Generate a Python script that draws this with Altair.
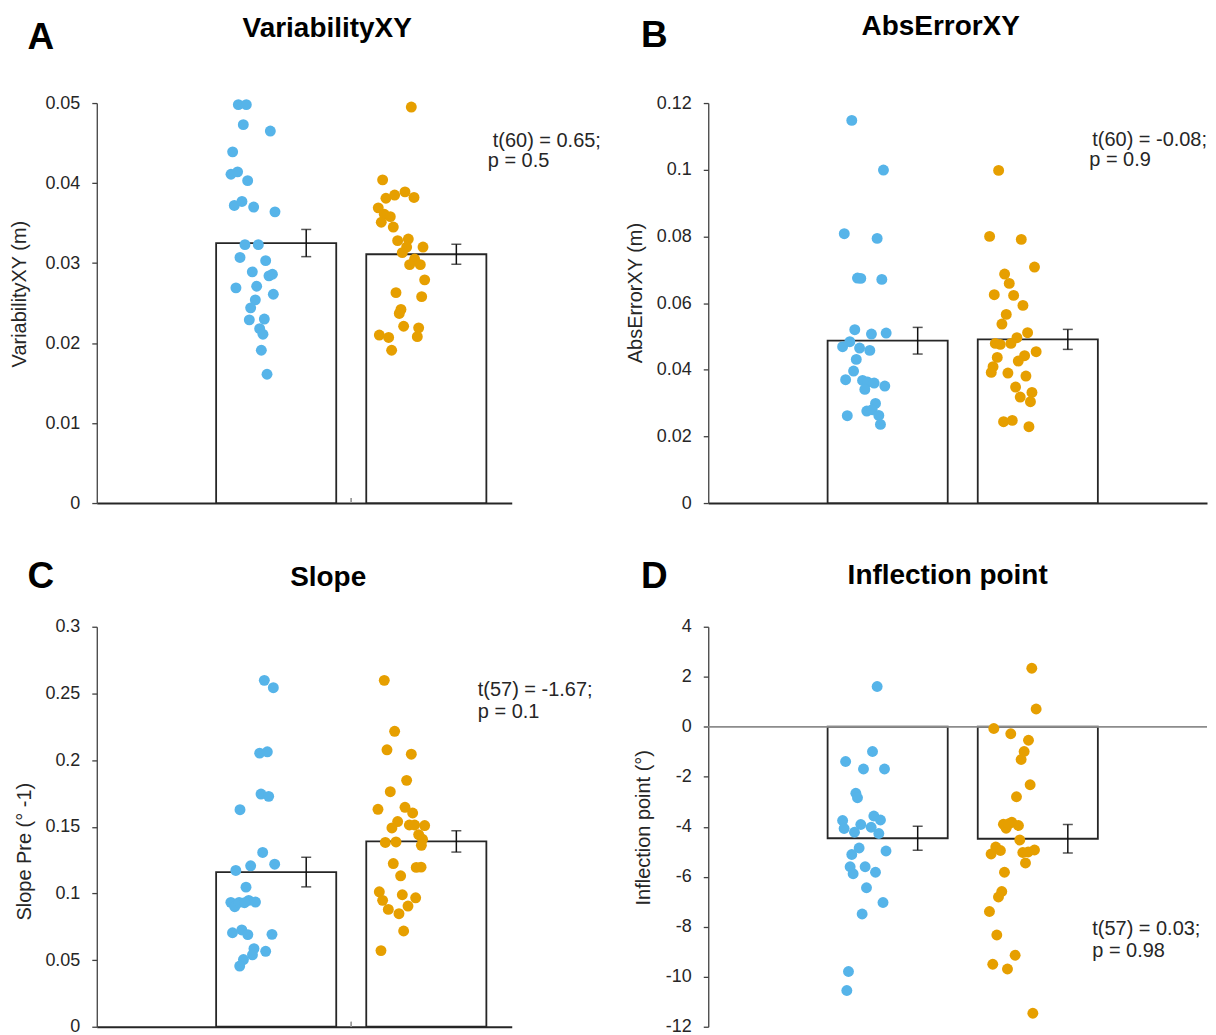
import altair as alt
import pandas as pd

FONT = "Liberation Sans"
BLUE = "#56B4E9"
ORANGE = "#E69F00"

GROUPS = ["Group 1", "Group 2"]
BAR_POS = [1, 2]

# ---------------- Panel A : VariabilityXY ----------------
a_blue = [0.0498, 0.0498, 0.0473, 0.0465, 0.0439, 0.0411, 0.0414, 0.0403, 0.0372, 0.0377,
          0.0370, 0.0364, 0.0323, 0.0323, 0.0307, 0.0303, 0.0289, 0.0284, 0.0286, 0.0269,
          0.0271, 0.0261, 0.0254, 0.0244, 0.0229, 0.0230, 0.0218, 0.0211, 0.0191, 0.0161]
a_blue_jit = [-0.252, -0.199, -0.219, -0.039, -0.290, -0.301, -0.257, -0.190, -0.279, -0.228,
              -0.150, -0.008, -0.208, -0.119, -0.241, -0.070, -0.159, -0.048, -0.025, -0.268,
              -0.130, -0.019, -0.139, -0.170, -0.179, -0.079, -0.110, -0.088, -0.099, -0.061]
a_orange = [0.0495, 0.0404, 0.0381, 0.0385, 0.0389, 0.0382, 0.0369, 0.0361, 0.0358, 0.0351,
            0.0345, 0.0328, 0.0330, 0.0320, 0.0320, 0.0313, 0.0305, 0.0298, 0.0298, 0.0279,
            0.0263, 0.0258, 0.0242, 0.0237, 0.0221, 0.0219, 0.0210, 0.0207, 0.0208, 0.0191]
a_orange_jit = [-0.100, -0.291, -0.269, -0.211, -0.142, -0.082, -0.320, -0.280, -0.240, -0.300,
                -0.220, -0.191, -0.120, -0.131, -0.022, -0.160, -0.078, -0.111, -0.040, -0.011,
                -0.202, -0.031, -0.169, -0.180, -0.151, -0.051, -0.313, -0.251, -0.060, -0.231]
a_means = [0.0325, 0.0311]
a_sems = [0.0017, 0.00125]
a_ticks = [0, 0.01, 0.02, 0.03, 0.04, 0.05]
a_ann = ["t(60) = 0.65;", "p = 0.5"]

# ---------------- Panel B : AbsErrorXY ----------------
b_blue = [0.1148, 0.0999, 0.0808, 0.0794, 0.0675, 0.0674, 0.0671, 0.0520, 0.0507, 0.0510,
          0.0484, 0.0469, 0.0465, 0.0458, 0.0431, 0.0396, 0.0370, 0.0368, 0.0363, 0.0360,
          0.0351, 0.0341, 0.0299, 0.0276, 0.0280, 0.0262, 0.0263, 0.0236]
b_blue_jit = [-0.239, -0.028, -0.289, -0.070, -0.201, -0.179, -0.039, -0.219, -0.108, -0.010,
              -0.252, -0.300, -0.187, -0.119, -0.209, -0.227, -0.280, -0.167, -0.134, -0.090,
              -0.019, -0.152, -0.081, -0.139, -0.103, -0.269, -0.059, -0.048]
b_orange = [0.0998, 0.0800, 0.0791, 0.0708, 0.0687, 0.0659, 0.0625, 0.0623, 0.0593, 0.0566,
            0.0537, 0.0511, 0.0496, 0.0479, 0.0476, 0.0479, 0.0454, 0.0442, 0.0426, 0.0437,
            0.0409, 0.0392, 0.0390, 0.0381, 0.0348, 0.0332, 0.0318, 0.0304, 0.0244, 0.0248,
            0.0229]
b_orange_jit = [-0.261, -0.321, -0.110, -0.022, -0.221, -0.190, -0.290, -0.161, -0.099, -0.210,
                -0.239, -0.068, -0.139, -0.283, -0.250, -0.179, -0.011, -0.088, -0.130, -0.270,
                -0.298, -0.310, -0.199, -0.079, -0.148, -0.039, -0.117, -0.049, -0.228, -0.170,
                -0.059]
b_means = [0.0487, 0.0491]
b_sems = [0.0040, 0.0030]
b_ticks = [0, 0.02, 0.04, 0.06, 0.08, 0.1, 0.12]
b_ann = ["t(60) = -0.08;", "p = 0.9"]

# ---------------- Panel C : Slope ----------------
c_blue = [0.2598, 0.2543, 0.2052, 0.2062, 0.1745, 0.1728, 0.1628, 0.1307, 0.1207, 0.1219,
          0.1172, 0.1047, 0.0933, 0.0900, 0.0933, 0.0948, 0.0935, 0.0930, 0.0705, 0.0726,
          0.0691, 0.0693, 0.0586, 0.0539, 0.0566, 0.0504, 0.0455]
c_blue_jit = [-0.079, -0.019, -0.110, -0.059, -0.101, -0.050, -0.241, -0.090, -0.170, -0.010,
              -0.269, -0.201, -0.302, -0.276, -0.247, -0.183, -0.138, -0.211, -0.291, -0.229,
              -0.189, -0.028, -0.148, -0.158, -0.070, -0.218, -0.243]
c_orange = [0.2598, 0.2216, 0.2077, 0.2044, 0.1848, 0.1763, 0.1631, 0.1646, 0.1603, 0.1539,
            0.1491, 0.1513, 0.1513, 0.1509, 0.1441, 0.1406, 0.1361, 0.1382, 0.1386, 0.1224,
            0.1195, 0.1197, 0.1132, 0.1012, 0.0990, 0.0967, 0.0948, 0.0880, 0.0905, 0.0848,
            0.0718, 0.0571]
c_orange_jit = [-0.280, -0.211, -0.262, -0.100, -0.131, -0.240, -0.322, -0.142, -0.091, -0.191,
                -0.229, -0.113, -0.078, -0.011, -0.051, -0.025, -0.033, -0.273, -0.202, -0.220,
                -0.067, -0.035, -0.171, -0.313, -0.160, -0.071, -0.291, -0.253, -0.122, -0.182,
                -0.151, -0.302]
c_means = [0.116, 0.139]
c_sems = [0.0111, 0.0080]
c_ticks = [0, 0.05, 0.1, 0.15, 0.2, 0.25, 0.3]
c_ann = ["t(57) = -1.67;", "p = 0.1"]

# ---------------- Panel D : Inflection point ----------------
d_blue = [1.61, -0.99, -1.39, -1.69, -1.69, -2.66, -2.84, -3.57, -3.73, -3.75,
          -4.07, -3.91, -4.02, -4.22, -4.27, -4.85, -5.11, -4.97, -5.60, -5.60,
          -5.88, -5.82, -6.44, -7.03, -7.49, -9.79, -10.55]
d_blue_jit = [-0.070, -0.101, -0.280, -0.161, -0.021, -0.212, -0.201, -0.092, -0.048, -0.300,
              -0.290, -0.179, -0.110, -0.221, -0.059, -0.190, -0.239, -0.011, -0.250, -0.150,
              -0.230, -0.081, -0.141, -0.031, -0.170, -0.261, -0.272]
d_orange = [2.34, 0.71, -0.07, -0.28, -0.54, -0.99, -1.31, -2.32, -2.80, -3.90,
            -3.82, -3.95, -4.06, -3.88, -4.53, -4.81, -4.95, -5.09, -4.93, -5.03,
            -5.01, -5.45, -5.82, -6.59, -6.81, -7.39, -8.33, -9.14, -9.50, -9.69,
            -11.46]
d_orange_jit = [-0.040, -0.011, -0.293, -0.180, -0.062, -0.091, -0.111, -0.051, -0.142, -0.229,
                -0.173, -0.129, -0.211, -0.193, -0.120, -0.280, -0.249, -0.311, -0.022, -0.100,
                -0.064, -0.082, -0.222, -0.240, -0.262, -0.322, -0.273, -0.151, -0.300, -0.202,
                -0.033]
d_means = [-4.46, -4.48]
d_sems = [0.48, 0.57]
d_ticks = [-12, -10, -8, -6, -4, -2, 0, 2, 4]
d_ann = ["t(57) = 0.03;", "p = 0.98"]

BAR_HALF = 0.4
ERR_OFF = 0.2
X_MIN = -0.195

LABEL_EXPR = "replace(format(datum.value, '~g'), '\u2212', '-')"


def text_layer(txt, x, y, size, weight="normal", align="left", color="#262626"):
    return alt.Chart(pd.DataFrame({"t": [txt]})).mark_text(
        font=FONT, fontSize=size, fontWeight=weight, align=align,
        baseline="alphabetic", color=color
    ).encode(text="t:N", x=alt.value(x), y=alt.value(y))


def panel(blue_v, blue_j, orange_v, orange_j, means, sems, ydom, yticks, ytitle,
          title_xy, xmax, width, height, title, title_pos, letter, letter_pos,
          ann, ann_pos, zero_line, mid_tick):
    pts = pd.DataFrame({
        "grp": [GROUPS[0]] * len(blue_v) + [GROUPS[1]] * len(orange_v),
        "x": [BAR_POS[0] + j for j in blue_j] + [BAR_POS[1] + j for j in orange_j],
        "v": blue_v + orange_v,
    })
    bars = pd.DataFrame({
        "grp": GROUPS,
        "x": [p - BAR_HALF for p in BAR_POS],
        "x2": [p + BAR_HALF for p in BAR_POS],
        "m": means,
        "lo": [m - s for m, s in zip(means, sems)],
        "hi": [m + s for m, s in zip(means, sems)],
        "ex": [p + ERR_OFF for p in BAR_POS],
    })
    caps = pd.DataFrame({
        "ex": [p + ERR_OFF for p in BAR_POS] * 2,
        "cy": [m - s for m, s in zip(means, sems)] + [m + s for m, s in zip(means, sems)],
    })
    xscale = alt.Scale(domain=[X_MIN, xmax], nice=False, zero=False)
    yscale = alt.Scale(domain=ydom, nice=False, zero=False)
    yaxis = alt.Axis(values=yticks, title=ytitle, labelExpr=LABEL_EXPR, grid=False,
                     titleX=title_xy[0], titleY=title_xy[1], titleAngle=270,
                     titleBaseline="middle", titleAlign="center")
    if zero_line:
        xaxis = alt.Axis(title=None, labels=False, ticks=False, grid=False, domain=False)
    else:
        xaxis = alt.Axis(title=None, labels=False, ticks=False, grid=False, domain=True,
                         domainColor="#262626", domainWidth=2)

    def X(field):
        return alt.X(field, scale=xscale, axis=xaxis, title=None)

    def Y(field):
        return alt.Y(field, scale=yscale, axis=yaxis, title=ytitle)

    layers = []
    layers.append(alt.Chart(bars).mark_bar(fill="white", stroke="#262626", strokeWidth=1.8).encode(
        x=X("x:Q"), x2="x2:Q", y=Y("m:Q"), y2=alt.datum(0),
    ))
    if zero_line:
        layers.append(alt.Chart(bars).mark_rule(color="#8c8c8c", strokeWidth=1.5).encode(
            y=alt.datum(0)))
    if mid_tick:
        layers.append(alt.Chart(bars).mark_rule(color="#9a9a9a", strokeWidth=1.5).encode(
            x=alt.datum(1.5), y=alt.value(height), y2=alt.value(height - 5)))
    layers.append(alt.Chart(pts).mark_circle(size=120, opacity=1).encode(
        x=X("x:Q"), y=Y("v:Q"),
        color=alt.Color("grp:N", scale=alt.Scale(domain=GROUPS, range=[BLUE, ORANGE]), legend=None),
    ))
    layers.append(alt.Chart(bars).mark_rule(color="#111111", strokeWidth=1.5).encode(
        x=X("ex:Q"), y=Y("lo:Q"), y2="hi:Q",
    ))
    layers.append(alt.Chart(caps).mark_tick(orient="horizontal", size=10, thickness=1.5,
                                            color="#111111").encode(
        x=X("ex:Q"), y=Y("cy:Q"),
    ))
    layers.append(text_layer(title, title_pos[0], title_pos[1], 28, "bold", "center", "black"))
    layers.append(text_layer(letter, letter_pos[0], letter_pos[1], 37, "bold", "center", "black"))
    layers.append(text_layer(ann[0], ann_pos[0], ann_pos[1], 20))
    layers.append(text_layer(ann[1], ann_pos[2], ann_pos[3], 20))
    return alt.layer(*layers).properties(width=width, height=height)


pA = panel(a_blue, a_blue_jit, a_orange, a_orange_jit, a_means, a_sems, [0, 0.05], a_ticks,
           "VariabilityXY (m)", (-77, 191), 2.569, 416, 401,
           "VariabilityXY", (231, -66), "A", (-56, -54),
           a_ann, (397, 44, 392, 64), False, True)
pB = panel(b_blue, b_blue_jit, b_orange, b_orange_jit, b_means, b_sems, [0, 0.12], b_ticks,
           "AbsErrorXY (m)", (-73, 190), 3.127, 500, 401,
           "AbsErrorXY", (233, -68), "B", (-54, -56),
           b_ann, (385, 43, 382, 63), False, False)
pC = panel(c_blue, c_blue_jit, c_orange, c_orange_jit, c_means, c_sems, [0, 0.3], c_ticks,
           "Slope Pre (° -1)", (-72, 225), 2.569, 416, 401,
           "Slope", (232, -41), "C", (-56, -39),
           c_ann, (382, 69, 382, 91), False, True)
pD = panel(d_blue, d_blue_jit, d_orange, d_orange_jit, d_means, d_sems, [-12, 4], d_ticks,
           "Inflection point (°)", (-65, 201), 3.127, 500, 401,
           "Inflection point", (240, -43), "D", (-54, -39),
           d_ann, (385, 309, 385, 331), True, False)

chart = alt.concat(
    pA, pB, pC, pD, columns=2,
    spacing={"row": 124, "column": 197},
    bounds="flush", align="each",
).properties(
    padding={"left": 2, "top": 4, "right": 0, "bottom": 0},
    background="white",
).configure_view(stroke=None).configure_axis(
    labelFont=FONT, labelFontSize=18, labelColor="#262626",
    titleFont=FONT, titleFontSize=20, titleFontWeight="normal", titleColor="#262626",
    domainColor="#404040", tickColor="#404040", tickSize=5, labelPadding=12,
    domainWidth=1.3, tickWidth=1.3,
)

chart.save("out.html", embed_options={"renderer": "svg", "actions": False})
